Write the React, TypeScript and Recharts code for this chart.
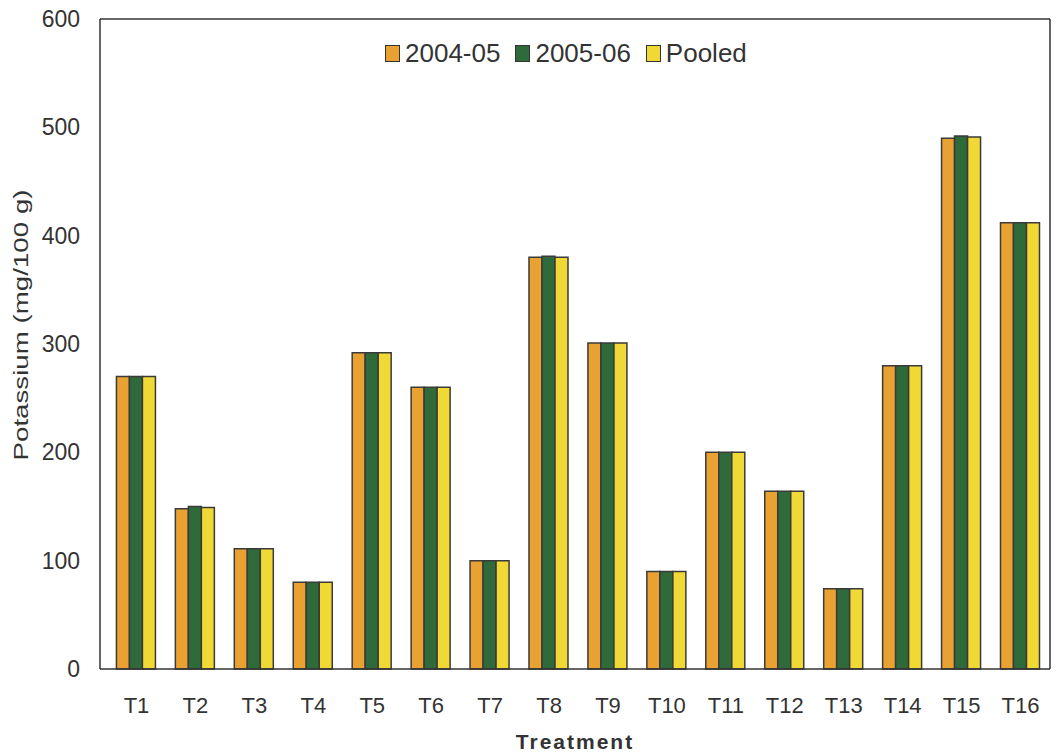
import React from 'react';
import { BarChart, Bar, XAxis, YAxis } from 'recharts';

const categories = ['T1','T2','T3','T4','T5','T6','T7','T8','T9','T10','T11','T12','T13','T14','T15','T16'];
const s2004 = [270, 148, 111, 80, 292, 260, 100, 380, 301, 90, 200, 164, 74, 280, 490, 412];
const s2005 = [270, 150, 111, 80, 292, 260, 100, 381, 301, 90, 200, 164, 74, 280, 492, 412];
const pooled = [270, 149, 111, 80, 292, 260, 100, 380, 301, 90, 200, 164, 74, 280, 491, 412];
const yTicks = [0, 100, 200, 300, 400, 500, 600];

const seriesNames = ['2004-05', '2005-06', 'Pooled'];
const colors = ['#E9A232', '#2F6A3B', '#F1D935'];
const strokeColor = '#3a3a3a';

const data = categories.map((c, i) => ({ name: c, a: s2004[i], b: s2005[i], c: pooled[i] }));

const font = 'Liberation Sans, Arial, sans-serif';

const LegendBox = () => (
  <div style={{ position: 'absolute', left: 385, top: 38, display: 'flex', alignItems: 'center', fontFamily: font, fontSize: 26, color: '#333', lineHeight: '30px' }}>
    {seriesNames.map((n, i) => (
      <div key={n} style={{ display: 'flex', alignItems: 'center', marginRight: 15 }}>
        <span style={{ display: 'inline-block', width: 13, height: 15, background: colors[i], border: '1.5px solid #333', marginRight: 5 }} />
        <span>{n}</span>
      </div>
    ))}
  </div>
);

const YTitle = (props: any) => {
  const vb = props.viewBox || {};
  const cx = vb.x + 1;
  const cy = vb.y + vb.height / 2 - 19;
  return (
    <text
      x={0}
      y={0}
      transform={`translate(${cx},${cy}) rotate(-90) scale(1.32,1)`}
      textAnchor="middle"
      dominantBaseline="central"
      fill="#333"
      fontSize={21}
      fontFamily={font}
    >
      Potassium (mg/100 g)
    </text>
  );
};

export default function App() {
  return (
    <div style={{ position: 'absolute', left: 0, top: 0, width: 1057, height: 756, background: '#fff' }}>
      <BarChart
        width={1057}
        height={756}
        data={data}
        margin={{ top: 18, right: 6, bottom: 0, left: 20 }}
        barCategoryGap="16%"
        barGap={0}
      >
        <XAxis
          dataKey="name"
          axisLine={{ stroke: '#333', strokeWidth: 1.5 }}
          tickLine={false}
          tick={{ fill: '#333', fontSize: 22, fontFamily: font }}
          tickMargin={22}
          interval={0}
          padding={{ left: 7, right: 0 }}
          label={{ value: 'Treatment', position: 'insideBottom', offset: 7, fill: '#333', fontSize: 21, fontFamily: font, fontWeight: 'bold', letterSpacing: 2 }}
          height={87}
        />
        <XAxis xAxisId="top" orientation="top" dataKey="name" axisLine={{ stroke: '#333', strokeWidth: 1.5 }} tick={false} tickLine={false} height={1} />
        <YAxis
          domain={[0, 600]}
          ticks={yTicks}
          width={80}
          axisLine={{ stroke: '#333', strokeWidth: 1.5 }}
          tickLine={false}
          tick={{ fill: '#333', fontSize: 23, fontFamily: font }}
          tickMargin={14}
          label={<YTitle />}
        />
        <YAxis yAxisId="right" orientation="right" domain={[0, 600]} axisLine={{ stroke: '#333', strokeWidth: 1.5 }} tick={false} tickLine={false} width={1} />
        <Bar dataKey="a" name={seriesNames[0]} fill={colors[0]} stroke={strokeColor} strokeWidth={1.5} isAnimationActive={false} />
        <Bar dataKey="b" name={seriesNames[1]} fill={colors[1]} stroke={strokeColor} strokeWidth={1.5} isAnimationActive={false} />
        <Bar dataKey="c" name={seriesNames[2]} fill={colors[2]} stroke={strokeColor} strokeWidth={1.5} isAnimationActive={false} />
      </BarChart>
      <LegendBox />
    </div>
  );
}
